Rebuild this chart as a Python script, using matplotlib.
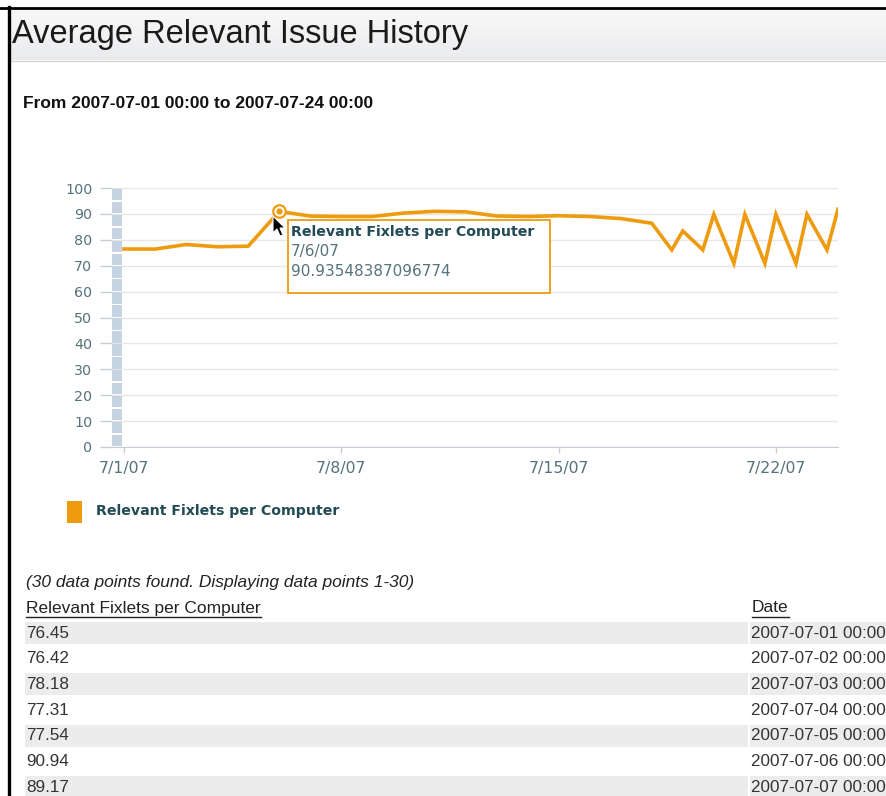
import numpy as np
import pandas as pd
import matplotlib.pyplot as plt
import matplotlib.dates as mdates
from matplotlib.patches import Rectangle, Polygon
from matplotlib.lines import Line2D

W, H = 886, 796

dates = ['2007-07-01', '2007-07-02', '2007-07-03', '2007-07-04', '2007-07-05',
         '2007-07-06', '2007-07-07', '2007-07-08', '2007-07-09', '2007-07-10',
         '2007-07-11', '2007-07-12', '2007-07-13', '2007-07-14', '2007-07-15',
         '2007-07-16', '2007-07-17', '2007-07-18', '2007-07-18 15:30', '2007-07-19',
         '2007-07-19 15:30', '2007-07-20', '2007-07-20 15:30', '2007-07-21',
         '2007-07-21 15:30', '2007-07-22', '2007-07-22 15:30', '2007-07-23',
         '2007-07-23 15:30', '2007-07-24']
values = [76.45, 76.42, 78.18, 77.31, 77.54, 90.94, 89.17, 89.0, 89.0, 90.3,
          91.0, 90.8, 89.2, 89.0, 89.3, 89.0, 88.2, 86.4, 76.1, 83.4,
          76.1, 89.8, 70.9, 89.8, 70.9, 89.8, 70.9, 89.8, 76.1, 91.8]
tip_date = '2007-07-06'
tip_value = '90.93548387096774'
tick_dates = ['2007-07-01', '2007-07-08', '2007-07-15', '2007-07-22']
tick_labels = ['7/1/07', '7/8/07', '7/15/07', '7/22/07']
y_ticks = list(range(0, 101, 10))
series_name = 'Relevant Fixlets per Computer'
title = 'Average Relevant Issue History'
subtitle = 'From 2007-07-01 00:00 to 2007-07-24 00:00'
found_text = '(30 data points found. Displaying data points 1-30)'
shown_rows = 7

orange = '#ef9b0f'
teal = '#234b55'
tickc = '#55737b'
axisc = '#c4cdd7'


def fx(x):
    return x / W


def fy(y):
    return 1 - y / H


fig = plt.figure(figsize=(W / 100, H / 100), dpi=100)

# header band with soft gradient
hax = fig.add_axes([fx(9), fy(60), 1 - fx(9), 51 / H])
c1 = np.array([0.975, 0.975, 0.975])
c2 = np.array([0.918, 0.922, 0.93])
grad = np.linspace(c1, c2, 50)[:, None, :]
hax.imshow(grad, aspect='auto', extent=[0, 1, 0, 1])
hax.axis('off')
fig.add_artist(Line2D([fx(9), 1], [fy(60.5)] * 2, color='#d6d6d6', lw=1, transform=fig.transFigure))
fig.add_artist(Line2D([0, 1], [fy(7.5)] * 2, color='black', lw=2, transform=fig.transFigure))
fig.add_artist(Line2D([fx(9)] * 2, [0, fy(7)], color='black', lw=2.4, transform=fig.transFigure))

fig.text(fx(12), fy(35), title, fontsize=23.5, family='Liberation Sans', color='#1a1a1a', va='center')
fig.text(fx(23), fy(103), subtitle, fontsize=12.5, family='Liberation Sans', fontweight='bold',
         color='#111111', va='center')

# main chart
ax = fig.add_axes([fx(112), fy(447), fx(838) - fx(112), (447 - 188) / H])
xd = pd.to_datetime(dates, format='mixed')
ax.plot(xd, values, color=orange, lw=2.6, solid_joinstyle='miter', zorder=4)

x0 = mdates.date2num(pd.Timestamp(tick_dates[0]))
ax.set_xlim(x0 - 12 / 31.05, mdates.date2num(xd[-1]))
ax.set_ylim(0, 100)
ax.set_yticks(y_ticks)
ax.set_xticks(pd.to_datetime(tick_dates))
ax.set_xticklabels(tick_labels)
ax.yaxis.grid(True, color='#e7e7e7', lw=1)
ax.set_axisbelow(True)
for s in ['top', 'right', 'left']:
    ax.spines[s].set_visible(False)
ax.spines['bottom'].set_color(axisc)
ax.tick_params(axis='y', length=8.6, width=1, color=axisc, pad=5.5, labelsize=10.3, labelcolor=tickc)
ax.tick_params(axis='x', length=4, width=1, color=axisc, pad=6, labelsize=11.3, labelcolor=tickc)
for lab in ax.get_xticklabels() + ax.get_yticklabels():
    lab.set_family('DejaVu Sans')

# stacked slider strip on the left
for k in range(20):
    ax.add_patch(Rectangle((0, k * 5 + 0.3), 10 / 726, 4.4, transform=ax.get_yaxis_transform(),
                           color='#c6d3e1', zorder=3, clip_on=False, lw=0))

# hover marker
ti = dates.index(tip_date)
ax.plot(xd[ti], values[ti], 'o', ms=9, mfc='white', mec=orange, mew=1.6, zorder=6, clip_on=False)
ax.plot(xd[ti], values[ti], 'o', ms=3.5, color=orange, zorder=7, clip_on=False)

# tooltip
fig.add_artist(Rectangle((fx(288), fy(293)), fx(550) - fx(288), 73 / H, transform=fig.transFigure,
                         fc='white', ec=orange, lw=1.3, zorder=10))
td = pd.Timestamp(tip_date)
fig.text(fx(291), fy(232), series_name, fontsize=10.2, fontweight='bold', color=teal,
         family='DejaVu Sans', va='center', zorder=11)
fig.text(fx(291), fy(252), f'{td.month}/{td.day}/{td:%y}', fontsize=11, color=tickc,
         family='DejaVu Sans', va='center', zorder=11)
fig.text(fx(291), fy(272), tip_value, fontsize=11, color=tickc,
         family='DejaVu Sans', va='center', zorder=11)

# mouse pointer
cx, cy = 273, 216
shape = [(0, 0), (0, 17), (4, 13), (7, 20), (10, 19), (7, 12), (12, 12)]
fig.add_artist(Polygon([(fx(cx + a), fy(cy + b)) for a, b in shape], closed=True,
                       transform=fig.transFigure, fc='black', ec='white', lw=0.8, zorder=12))

# legend
fig.add_artist(Rectangle((fx(67), fy(523)), 15 / W, 22 / H, transform=fig.transFigure,
                         fc=orange, ec='none'))
fig.text(fx(96), fy(511), series_name, fontsize=10.2, fontweight='bold', color=teal,
         family='DejaVu Sans', va='center')

# data table below
fig.text(fx(26), fy(582), found_text, fontsize=12.5, style='italic', family='Liberation Sans',
         color='#222222', va='center')
h1 = fig.text(fx(26), fy(608), series_name, fontsize=12.5, family='Liberation Sans',
              color='#222222', va='center')
h2 = fig.text(fx(752), fy(608), 'Date', fontsize=12.5, family='Liberation Sans',
              color='#222222', va='center')
fig.canvas.draw()
r = fig.canvas.get_renderer()
for t in (h1, h2):
    bb = t.get_window_extent(r)
    fig.add_artist(Line2D([bb.x0 / W, bb.x1 / W], [fy(617)] * 2, color='#222222', lw=1,
                          transform=fig.transFigure))

for i in range(shown_rows):
    yc = 633 + i * 25.7
    if i % 2 == 0:
        fig.add_artist(Rectangle((fx(25), fy(yc + 11)), fx(748) - fx(25), 22 / H,
                                 transform=fig.transFigure, fc='#ececec', ec='none'))
        fig.add_artist(Rectangle((fx(750), fy(yc + 11)), 1 - fx(750), 22 / H,
                                 transform=fig.transFigure, fc='#ececec', ec='none'))
    d = xd[i]
    fig.text(fx(26), fy(yc), f'{values[i]:.2f}', fontsize=12.3, family='Liberation Sans',
             color='#333333', va='center')
    fig.text(fx(751), fy(yc), f'{d:%Y-%m-%d %H:%M}', fontsize=12.3, family='Liberation Sans',
             color='#333333', va='center')

plt.savefig('out.png', dpi=100)
plt.close()
